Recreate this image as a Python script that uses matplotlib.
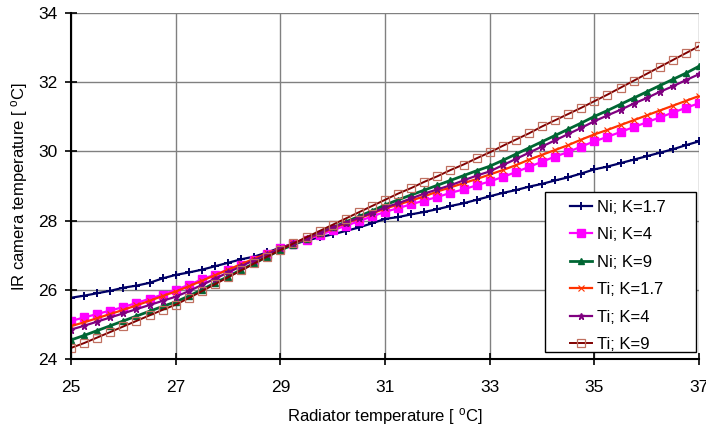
# IR camera vs radiator temperature

import numpy as np
import matplotlib
matplotlib.use("Agg")
import matplotlib.pyplot as plt
from matplotlib.patches import Rectangle

plt.rcParams['font.family'] = ['Liberation Sans', 'DejaVu Sans']
plt.rcParams['mathtext.default'] = 'regular'

# radiator temperature grid (0.25 degC steps)
radiator_t = np.arange(25, 37.001, 0.25)

ni_k17 = [25.77, 25.83, 25.90, 25.97, 26.06, 26.12, 26.20, 26.33, 26.43,
          26.50, 26.58, 26.68, 26.78, 26.88, 26.96, 27.08, 27.22,
          27.32, 27.42, 27.52, 27.60, 27.70, 27.80, 27.92, 28.05,
          28.10, 28.18, 28.25, 28.33, 28.42, 28.50, 28.60, 28.70,
          28.80, 28.88, 28.98, 29.06, 29.16, 29.25, 29.36, 29.48,
          29.56, 29.66, 29.76, 29.86, 29.96, 30.06, 30.18, 30.29]
ni_k4 = [25.10, 25.20, 25.30, 25.40, 25.50, 25.62, 25.74, 25.86, 26.00,
         26.14, 26.30, 26.44, 26.58, 26.72, 26.86, 27.02, 27.20,
         27.32, 27.45, 27.58, 27.72, 27.85, 27.98, 28.12, 28.25,
         28.36, 28.47, 28.58, 28.68, 28.80, 28.90, 29.02, 29.13,
         29.26, 29.40, 29.55, 29.70, 29.85, 29.98, 30.14, 30.29,
         30.42, 30.56, 30.70, 30.84, 30.98, 31.12, 31.26, 31.39]
ni_k9 = [24.55, 24.68, 24.82, 24.96, 25.10, 25.24, 25.38, 25.52, 25.65,
         25.82, 26.00, 26.20, 26.38, 26.58, 26.76, 26.96, 27.15,
         27.30, 27.48, 27.64, 27.80, 27.96, 28.12, 28.28, 28.45,
         28.60, 28.74, 28.88, 29.02, 29.16, 29.30, 29.44, 29.57,
         29.74, 29.92, 30.10, 30.28, 30.46, 30.64, 30.82, 31.01,
         31.18, 31.36, 31.54, 31.72, 31.90, 32.08, 32.26, 32.46]
ti_k17 = [24.95, 25.06, 25.18, 25.30, 25.42, 25.55, 25.68, 25.82, 25.95,
          26.10, 26.26, 26.42, 26.58, 26.74, 26.90, 27.05, 27.20,
          27.34, 27.48, 27.62, 27.78, 27.92, 28.06, 28.20, 28.35,
          28.46, 28.58, 28.70, 28.84, 28.96, 29.08, 29.20, 29.33,
          29.46, 29.60, 29.76, 29.90, 30.04, 30.18, 30.34, 30.49,
          30.62, 30.76, 30.90, 31.04, 31.18, 31.32, 31.46, 31.60]
ti_k4 = [24.85, 24.96, 25.08, 25.20, 25.32, 25.44, 25.56, 25.68, 25.80,
         25.96, 26.14, 26.32, 26.50, 26.68, 26.86, 27.02, 27.20,
         27.34, 27.49, 27.64, 27.80, 27.94, 28.08, 28.22, 28.38,
         28.50, 28.64, 28.78, 28.90, 29.02, 29.16, 29.30, 29.42,
         29.60, 29.78, 29.96, 30.14, 30.32, 30.50, 30.68, 30.87,
         31.04, 31.20, 31.38, 31.54, 31.72, 31.88, 32.06, 32.23]
ti_k9 = [24.32, 24.46, 24.62, 24.78, 24.94, 25.10, 25.26, 25.42, 25.57,
         25.76, 25.96, 26.16, 26.36, 26.56, 26.76, 26.96, 27.15,
         27.34, 27.52, 27.70, 27.88, 28.06, 28.24, 28.42, 28.60,
         28.78, 28.94, 29.12, 29.28, 29.46, 29.62, 29.80, 29.97,
         30.16, 30.34, 30.52, 30.72, 30.90, 31.08, 31.26, 31.45,
         31.64, 31.84, 32.04, 32.24, 32.44, 32.64, 32.84, 33.04]

labels = ['Ni; K=1.7', 'Ni; K=4', 'Ni; K=9', 'Ti; K=1.7', 'Ti; K=4', 'Ti; K=9']
x_ticks = [25, 27, 29, 31, 33, 35, 37]
y_ticks = [24, 26, 28, 30, 32, 34]

fig = plt.figure(figsize=(7.06, 4.32), dpi=100)
ax = fig.add_axes([0.1006, 0.169, 0.8895, 0.801])

ax.plot(radiator_t, ni_k17, color='#000066', lw=1.6, marker='+', ms=6, mew=1.4, label=labels[0])
ax.plot(radiator_t, ni_k4, color='#FF00FF', lw=1.6, marker='s', ms=6, label=labels[1])
ax.plot(radiator_t, ni_k9, color='#006633', lw=2.0, marker='^', ms=4, label=labels[2])
ax.plot(radiator_t, ti_k17, color='#FF3300', lw=1.6, marker='x', ms=4.5, mew=0.8, label=labels[3])
ax.plot(radiator_t, ti_k4, color='#800080', lw=1.6, marker='*', ms=5, label=labels[4])
ax.plot(radiator_t, ti_k9, color='#800000', lw=1.4, marker='s', ms=5.5, mfc='none',
        mec='#C07060', mew=0.9, label=labels[5])

ax.set_xlim(25, 37)
ax.set_ylim(24, 34)
ax.set_xticks(x_ticks)
ax.set_yticks(y_ticks)
ax.grid(True, color='#808080', lw=1)
ax.set_axisbelow(True)
for side in ['top', 'right']:
    ax.spines[side].set_visible(False)
for side in ['left', 'bottom']:
    ax.spines[side].set_linewidth(1.5)
ax.tick_params(direction='inout', length=8, width=1.2, labelsize=12.5, pad=6)
ax.tick_params(axis='x', pad=11)

ax.set_xlabel('Radiator temperature [ $^{o}$C]', fontsize=12, labelpad=8)
ax.set_ylabel('IR camera temperature [ $^{o}$C]', fontsize=12, labelpad=6)

# legend: entries without frame, box drawn separately (wide side padding)
ax.add_patch(Rectangle((0.755, 0.02), 0.24, 0.462, transform=ax.transAxes,
                       facecolor='white', edgecolor='black', lw=1, zorder=4))
leg = ax.legend(loc='upper left', bbox_to_anchor=(0.795, 0.46), fontsize=12,
                frameon=False, borderpad=0, borderaxespad=0,
                handlelength=1.3, handletextpad=0.3, labelspacing=0.75)
leg.set_zorder(5)

fig.savefig('out.png', dpi=100)
